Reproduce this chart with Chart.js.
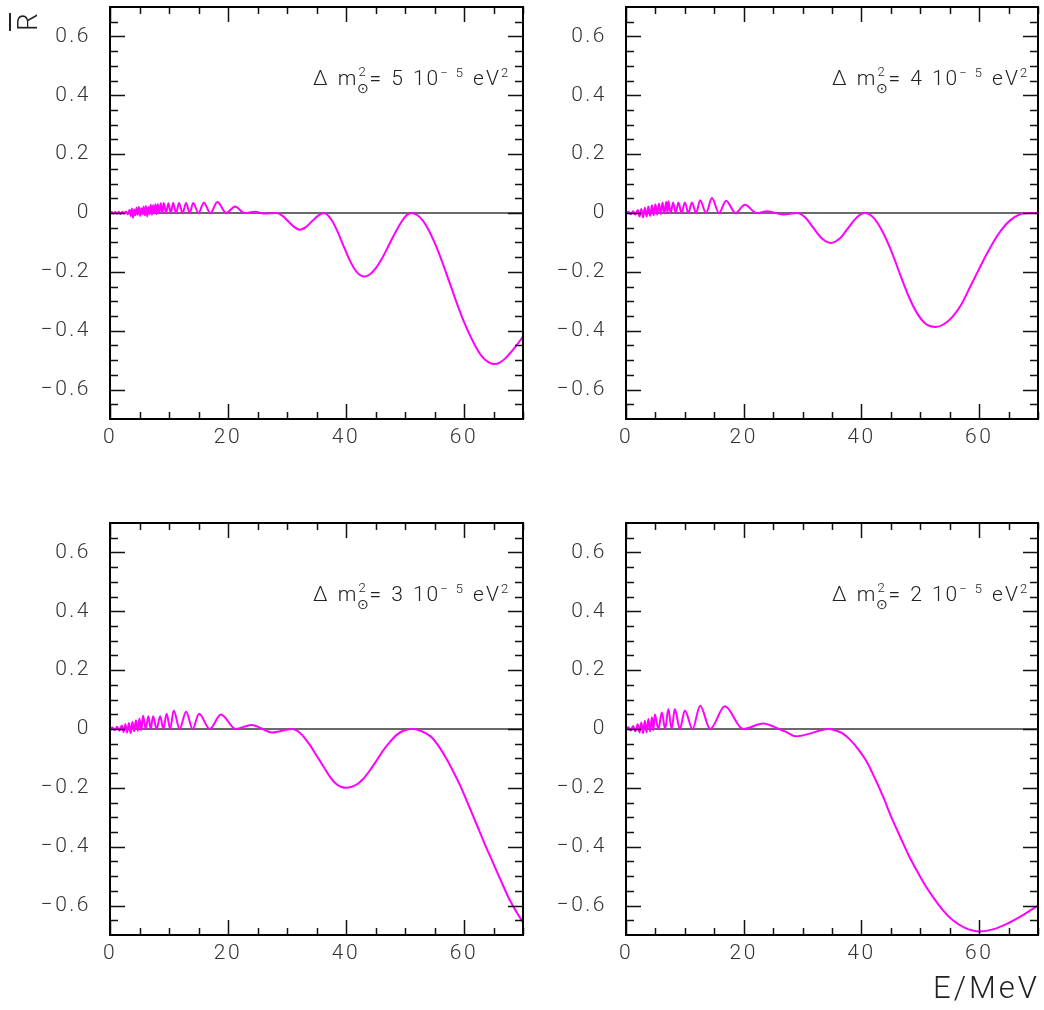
<!DOCTYPE html>
<html><head><meta charset="utf-8">
<script src="https://cdn.jsdelivr.net/npm/chart.js@4.4.1/dist/chart.umd.min.js"></script>
<style>
html,body{margin:0;padding:0;background:#fff;width:1044px;height:1010px;overflow:hidden;}
canvas{position:absolute;}
.txt{position:absolute;font-family:Roboto,"DejaVu Sans",sans-serif;font-weight:300;color:#222;white-space:nowrap;}
.ann{font-size:21px;letter-spacing:2px;word-spacing:1px;line-height:22px;}
.stack{display:inline-block;position:relative;width:11px;height:22px;vertical-align:top;}
.stack .up{position:absolute;left:0;top:-6px;font-size:13px;}
.stack .dn{position:absolute;left:-1px;top:10px;font-size:14px;}
.ann sup{font-size:13px;vertical-align:top;position:relative;top:-5px;}
</style></head><body>
<canvas id="c0" width="530" height="480" style="left:0px;top:0px"></canvas>
<canvas id="c1" width="528" height="480" style="left:516px;top:0px"></canvas>
<canvas id="c2" width="530" height="480" style="left:0px;top:516px"></canvas>
<canvas id="c3" width="528" height="480" style="left:516px;top:516px"></canvas>
<div class="txt" style="left:15px;top:7px;font-size:28px;transform:rotate(-90deg);transform-origin:center;width:26px;height:30px;text-align:center;line-height:30px;"><span style="text-decoration:overline;">R</span></div>
<div class="txt" style="right:4px;top:969px;font-size:31px;letter-spacing:3px;">E/MeV</div>
<script>
// ---- data ----
const xTicks = [0, 20, 40, 60];
const xMinorTicks = [0, 5, 10, 15, 20, 25, 30, 35, 40, 45, 50, 55, 60, 65, 70];
const yTicks = [-0.6, -0.4, -0.2, 0, 0.2, 0.4, 0.6];
const yMinorTicks = [-0.65, -0.6, -0.55, -0.5, -0.45, -0.4, -0.35, -0.3, -0.25, -0.2, -0.15, -0.1, -0.05, 0,
                     0.05, 0.1, 0.15, 0.2, 0.25, 0.3, 0.35, 0.4, 0.45, 0.5, 0.55, 0.6, 0.65];
const dmLabels = ['5', '4', '3', '2'];
const zeroE = [0, 70];
const zeroR = [0, 0];

// Δm² = 5e-5
const energyA = [0.0,0.3,0.6,0.9,1.2,1.5,1.8,2.1,2.4,2.7,3.0,3.3,3.5,3.7,3.9,4.1,4.3,4.5,4.7,4.9,5.1,5.3,5.5,5.7,5.9,6.1,6.3,6.5,6.7,6.9,7.1,7.3,7.5,7.7,7.9,8.1,8.35,8.6,8.85,9.1,9.5,9.9,10.3,10.7,11.2,11.7,12.3,12.9,13.5,14.1,15.0,15.9,17.0,18.2,19.7,21.2,22.8,24.5,26.3,28.2,29.2,30.2,31.2,32.2,33.2,34.2,35.3,36.3,37.5,38.5,39.5,40.5,41.5,42.3,43.1,44.0,45.0,46.0,47.0,48.0,49.0,50.0,51.0,52.0,53.0,54.0,55.0,56.0,57.0,58.0,59.0,60.0,61.0,62.0,63.0,64.0,65.1,66.0,67.0,68.0,69.0,70.0];
const ratioA = [0.000,0.003,-0.002,0.003,-0.002,0.004,-0.003,0.004,-0.002,0.005,-0.004,0.010,-0.010,0.015,-0.016,0.012,-0.008,0.018,-0.006,0.020,-0.010,0.016,-0.004,0.022,-0.008,0.024,-0.012,0.020,-0.004,0.028,-0.006,0.026,-0.002,0.030,-0.004,0.030,0.000,0.033,0.000,0.034,0.000,0.033,0.000,0.034,0.000,0.034,0.000,0.034,0.000,0.034,0.000,0.035,0.000,0.037,0.000,0.022,0.000,0.004,-0.002,0.000,-0.009,-0.028,-0.047,-0.057,-0.048,-0.029,-0.009,0.000,-0.022,-0.060,-0.108,-0.155,-0.192,-0.210,-0.216,-0.209,-0.189,-0.158,-0.120,-0.080,-0.043,-0.013,0.000,-0.006,-0.025,-0.058,-0.100,-0.150,-0.205,-0.262,-0.318,-0.370,-0.415,-0.455,-0.486,-0.505,-0.513,-0.509,-0.494,-0.472,-0.447,-0.420];

// Δm² = 4e-5
const energyB = [0.0,0.4,0.8,1.2,1.6,2.0,2.3,2.6,2.9,3.2,3.5,3.8,4.1,4.4,4.7,5.0,5.3,5.6,5.9,6.2,6.5,6.85,7.05,7.2,7.6,8.0,8.45,8.9,9.45,10.0,10.6,11.2,11.9,12.6,13.6,14.6,15.8,17.0,18.6,20.2,22.2,24.0,26.7,29.0,30.5,31.8,33.3,34.8,36.3,37.7,39.2,40.6,42.0,43.5,45.0,46.5,48.0,49.5,51.0,52.6,54.0,55.5,57.0,58.5,60.0,61.5,63.0,64.5,66.0,67.3,68.3,70.0];
const ratioB = [0.000,0.004,-0.004,0.006,-0.005,0.010,-0.012,0.014,-0.015,0.018,-0.012,0.022,-0.010,0.026,-0.008,0.030,-0.006,0.032,-0.004,0.036,-0.002,0.038,0.000,0.040,0.000,0.036,0.000,0.036,0.000,0.036,0.000,0.036,0.000,0.043,0.000,0.051,0.000,0.042,0.000,0.028,0.000,0.006,-0.005,0.000,-0.016,-0.050,-0.087,-0.102,-0.087,-0.052,-0.015,0.000,-0.015,-0.060,-0.125,-0.205,-0.282,-0.342,-0.378,-0.387,-0.378,-0.352,-0.310,-0.250,-0.190,-0.132,-0.080,-0.040,-0.014,-0.002,0.000,0.000];

// Δm² = 3e-5
const energyC = [0.0,0.4,0.8,1.2,1.6,2.0,2.3,2.6,2.9,3.2,3.5,3.8,4.1,4.4,4.7,5.0,5.3,5.6,6.05,6.5,6.9,7.3,7.9,8.5,9.05,9.6,10.2,10.8,11.8,12.9,14.0,15.1,16.9,18.8,21.3,24.0,27.5,30.8,32.3,33.9,35.0,36.2,37.2,38.2,39.2,40.1,41.0,42.0,42.9,44.0,45.2,46.3,47.5,48.6,49.8,51.4,52.5,53.5,54.5,55.7,57.0,58.2,59.3,60.7,62.1,63.5,65.0,66.4,67.8,69.0,70.0];
const ratioC = [0.000,0.005,-0.004,0.008,-0.006,0.012,-0.010,0.016,-0.012,0.020,-0.014,0.024,-0.008,0.030,-0.006,0.036,-0.004,0.045,0.000,0.043,0.000,0.043,0.000,0.043,0.000,0.052,0.000,0.063,0.000,0.059,0.000,0.052,0.000,0.049,0.000,0.014,-0.012,0.000,-0.015,-0.055,-0.090,-0.128,-0.160,-0.184,-0.197,-0.200,-0.196,-0.186,-0.170,-0.142,-0.107,-0.073,-0.043,-0.020,-0.005,0.000,-0.005,-0.014,-0.028,-0.058,-0.100,-0.145,-0.190,-0.255,-0.322,-0.390,-0.458,-0.522,-0.583,-0.625,-0.657];

// Δm² = 2e-5
const energyD = [0.0,0.4,0.8,1.2,1.6,2.0,2.3,2.6,2.9,3.2,3.5,3.8,4.1,4.4,4.65,4.9,5.5,6.1,6.65,7.2,7.75,8.3,9.15,10.0,11.3,12.6,14.3,16.8,19.9,23.3,26.0,27.5,28.9,31.5,33.0,34.4,35.5,36.8,38.1,39.5,40.9,42.3,43.7,45.1,46.6,48.0,49.4,50.8,52.2,53.9,55.6,57.5,60.1,62.5,64.7,67.3,70.0];
const ratioD = [0.000,0.006,-0.005,0.010,-0.008,0.016,-0.012,0.022,-0.014,0.028,-0.012,0.034,-0.008,0.040,-0.004,0.049,0.000,0.056,0.000,0.068,0.000,0.068,0.000,0.063,0.000,0.079,0.000,0.077,0.000,0.019,0.000,-0.013,-0.025,-0.014,-0.005,0.000,-0.004,-0.015,-0.037,-0.070,-0.111,-0.168,-0.231,-0.300,-0.367,-0.428,-0.481,-0.530,-0.572,-0.617,-0.651,-0.675,-0.688,-0.680,-0.662,-0.634,-0.600];

// ---- drawing ----
const FONT = 'Roboto, "DejaVu Sans", sans-serif';
const isMajorY = v => yTicks.some(t => Math.abs(t - v) < 1e-9);
const zeroPad = s => { s.paddingTop = 0; s.paddingBottom = 0; s.paddingLeft = 0; s.paddingRight = 0; };
const framePlugin = {
  id: 'frame',
  beforeDraw(chart) { chart.ctx.letterSpacing = '2.5px'; },
  afterDraw(chart) {
    const {ctx, chartArea: a, scales: {x, y}} = chart;
    ctx.save();
    ctx.strokeStyle = '#111';
    ctx.lineWidth = 1.5;
    ctx.beginPath();
    xMinorTicks.forEach(v => {
      const p = Math.round(x.getPixelForValue(v)) + 0.5;
      const L = xTicks.includes(v) ? 15 : 7;
      ctx.moveTo(p, a.bottom); ctx.lineTo(p, a.bottom - L);
      ctx.moveTo(p, a.top); ctx.lineTo(p, a.top + L);
    });
    yMinorTicks.forEach(v => {
      const p = Math.round(y.getPixelForValue(v)) + 0.5;
      const L = isMajorY(v) ? 15 : 8;
      ctx.moveTo(a.left, p); ctx.lineTo(a.left + L, p);
      ctx.moveTo(a.right, p); ctx.lineTo(a.right - L, p);
    });
    ctx.stroke();
    ctx.lineWidth = 2;
    ctx.strokeStyle = '#000';
    ctx.strokeRect(a.left, a.top, a.width, a.height);
    ctx.restore();
  }
};

const sets = [[energyA, ratioA], [energyB, ratioB], [energyC, ratioC], [energyD, ratioD]];
sets.forEach(([E, R], i) => {
  const cv = document.getElementById('c' + i);
  new Chart(cv, {
    type: 'line',
    data: {
      datasets: [
        { data: E.map((e, k) => ({x: e, y: R[k]})), borderColor: '#ff00ff', borderWidth: 2,
          pointRadius: 0, cubicInterpolationMode: 'monotone', order: 1 },
        { data: zeroE.map((e, k) => ({x: e, y: zeroR[k]})), borderColor: '#6a6a6a', borderWidth: 2,
          pointRadius: 0, order: 2 }
      ]
    },
    options: {
      responsive: false, animation: false, devicePixelRatio: 1,
      layout: {padding: {top: 7, right: (i % 2 === 0 ? 7 : 6), left: 0, bottom: 0}},
      plugins: {legend: {display: false}, tooltip: {enabled: false}},
      scales: {
        x: {
          type: 'linear', min: 0, max: 70,
          grid: {display: false, drawTicks: false}, border: {display: false},
          afterBuildTicks: s => { s.ticks = xTicks.map(v => ({value: v})); },
          afterFit: s => { s.height = 61; zeroPad(s); },
          ticks: {font: {family: FONT, weight: 300, size: 21}, color: '#333', padding: 6,
                  maxRotation: 0, autoSkip: false, callback: v => String(v)}
        },
        y: {
          type: 'linear', min: -0.7, max: 0.7,
          grid: {display: false, drawTicks: false}, border: {display: false},
          afterBuildTicks: s => { s.ticks = yTicks.map(v => ({value: v})); },
          afterFit: s => { s.width = 110; zeroPad(s); },
          ticks: {font: {family: FONT, weight: 300, size: 21}, color: '#333', padding: 19,
                  autoSkip: false,
                  callback: v => Math.abs(v) < 1e-9 ? '0' : (v < 0 ? '\u2212' : '') + Math.abs(v).toFixed(1)}
        }
      }
    },
    plugins: [framePlugin]
  });

  // annotation
  const d = document.createElement('div');
  d.className = 'txt ann';
  const left = (i % 2 === 0 ? 313 : 832);
  const top = (i < 2 ? 67 : 583);
  d.style.left = left + 'px';
  d.style.top = top + 'px';
  d.innerHTML = '\u0394 m<span class="stack"><span class="up">2</span><span class="dn">\u2299</span></span>= ' +
    dmLabels[i] + ' 10<sup>\u2212 5</sup> eV<sup>2</sup>';
  document.body.appendChild(d);
});
</script>
</body></html>
